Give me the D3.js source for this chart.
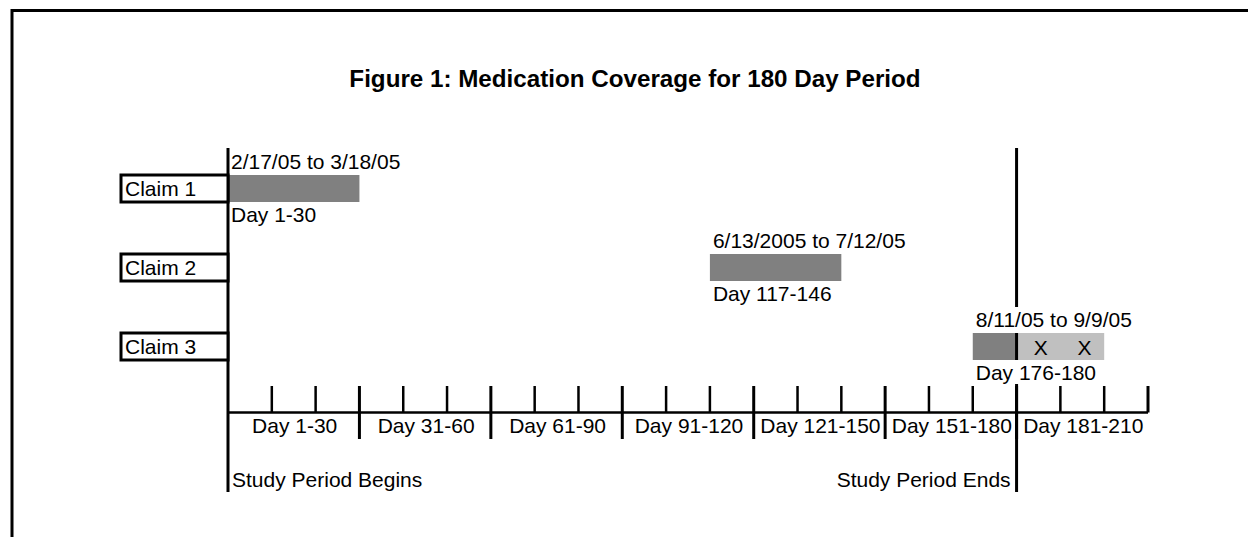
<!DOCTYPE html>
<html>
<head>
<meta charset="utf-8">
<script src="https://cdn.jsdelivr.net/npm/d3@7"></script>
<style>
  html, body { margin: 0; padding: 0; background: #fff; }
  svg { display: block; }
  text { font-family: "Liberation Sans", Arial, sans-serif; fill: #000; }
</style>
</head>
<body>
<script>
// ---- data ----
const title = "Figure 1: Medication Coverage for 180 Day Period";
const claims = ["Claim 1", "Claim 2", "Claim 3"];
const barStart = [0, 110, 170];
const barEnd = [30, 140, 200];
const dateLabels = ["2/17/05 to 3/18/05", "6/13/2005 to 7/12/05", "8/11/05 to 9/9/05"];
const dayLabels = ["Day 1-30", "Day 117-146", "Day 176-180"];
const periodLabels = ["Day 1-30", "Day 31-60", "Day 61-90", "Day 91-120", "Day 121-150", "Day 151-180", "Day 181-210"];
const periodLength = 30;
const studyEnd = 180;
const axisMax = 210;
const xMarks = [185.5, 195.5];
const studyLabels = ["Study Period Begins", "Study Period Ends"];

// ---- layout ----
const W = 1248, H = 537;
const svg = d3.select("body").append("svg").attr("width", W).attr("height", H);

const x = d3.scaleLinear().domain([0, axisMax]).range([228, 1148]);
const y = d3.scalePoint().domain(claims).range([188.5, 346.5]);
const barH = 27;
const axisY = 412.5;
const lineTop = 148, lineBottom = 492;

// frame (top and left)
svg.append("line").attr("x1", 11).attr("x2", W).attr("y1", 10.5).attr("y2", 10.5)
  .attr("stroke", "#000").attr("stroke-width", 3);
svg.append("line").attr("x1", 12).attr("x2", 12).attr("y1", 9).attr("y2", H)
  .attr("stroke", "#000").attr("stroke-width", 3);

// title
svg.append("text").attr("x", 635).attr("y", 87).attr("text-anchor", "middle")
  .style("font-size", "24.2px").style("font-weight", "bold").text(title);

const rows = claims.map((c, i) => ({
  claim: c, start: barStart[i], end: barEnd[i], date: dateLabels[i], day: dayLabels[i]
}));

// bars: dark portion within study, light portion after study end
svg.selectAll("rect.bar").data(rows).enter().append("rect")
  .attr("x", d => x(d.start)).attr("width", d => x(Math.min(d.end, studyEnd)) - x(d.start))
  .attr("y", d => y(d.claim) - barH / 2).attr("height", barH)
  .attr("fill", "#808080");
svg.selectAll("rect.barOut").data(rows.filter(d => d.end > studyEnd)).enter().append("rect")
  .attr("x", d => x(studyEnd)).attr("width", d => x(d.end) - x(studyEnd))
  .attr("y", d => y(d.claim) - barH / 2).attr("height", barH)
  .attr("fill", "#c0c0c0");

// axis line
svg.append("line").attr("x1", x(0)).attr("x2", x(axisMax)).attr("y1", axisY).attr("y2", axisY)
  .attr("stroke", "#000").attr("stroke-width", 2.5);

// ticks
const ticks = d3.range(10, axisMax + 1, 10);
svg.selectAll("line.tick").data(ticks).enter().append("line")
  .attr("x1", d => x(d)).attr("x2", d => x(d))
  .attr("y1", 386)
  .attr("y2", d => (d % periodLength === 0 && d < axisMax) ? 439 : axisY)
  .attr("stroke", "#000").attr("stroke-width", d => d % periodLength === 0 ? 3 : 2.5);

// study begin/end lines
svg.selectAll("line.study").data([0, studyEnd]).enter().append("line")
  .attr("x1", d => x(d)).attr("x2", d => x(d))
  .attr("y1", lineTop).attr("y2", lineBottom)
  .attr("stroke", "#000").attr("stroke-width", 3);

// claim label boxes
svg.selectAll("rect.box").data(rows).enter().append("rect")
  .attr("class", "box")
  .attr("x", 121).attr("width", x(0) - 121)
  .attr("y", d => y(d.claim) - barH / 2).attr("height", barH)
  .attr("fill", "#fff").attr("stroke", "#000").attr("stroke-width", 3);

svg.selectAll("text.claim").data(rows).enter().append("text")
  .attr("x", 125).attr("y", d => y(d.claim) + 7)
  .style("font-size", "21px").text(d => d.claim);

// X marks on out-of-period portion
const lastRow = rows[rows.length - 1];
svg.selectAll("text.xmark").data(xMarks).enter().append("text")
  .attr("x", d => x(d)).attr("y", y(lastRow.claim) + 8)
  .attr("text-anchor", "middle").style("font-size", "21px").text("X");

// date labels above, day labels below (with white text boxes)
const labelG = svg.append("g");
rows.forEach(d => {
  const top = y(d.claim) - barH / 2, bottom = y(d.claim) + barH / 2;
  const bgTop = labelG.append("rect").attr("fill", "#fff");
  const t1 = labelG.append("text").attr("x", x(d.start) + 3).attr("y", top - 6)
    .style("font-size", "21px").text(d.date);
  const b1 = t1.node().getBBox();
  bgTop.attr("x", x(d.start) + 2).attr("width", b1.width + 4)
    .attr("y", b1.y - 1).attr("height", top - b1.y + 1);
  const bgBot = labelG.append("rect").attr("fill", "#fff");
  const t2 = labelG.append("text").attr("x", x(d.start) + 3).attr("y", bottom + 20)
    .style("font-size", "21px").text(d.day);
  const b2 = t2.node().getBBox();
  bgBot.attr("x", x(d.start) + 2).attr("width", b2.width + 4)
    .attr("y", bottom).attr("height", b2.y + b2.height - bottom);
});

// period labels
svg.selectAll("text.period").data(periodLabels).enter().append("text")
  .attr("x", (d, i) => x(i * periodLength + periodLength / 2) + 1)
  .attr("y", 433).attr("text-anchor", "middle")
  .style("font-size", "21px").text(d => d);

// study labels
svg.append("text").attr("x", x(0) + 4).attr("y", 487)
  .style("font-size", "21px").text(studyLabels[0]);
svg.append("text").attr("x", x(studyEnd) - 6).attr("y", 487).attr("text-anchor", "end")
  .style("font-size", "21px").text(studyLabels[1]);
</script>
</body>
</html>
